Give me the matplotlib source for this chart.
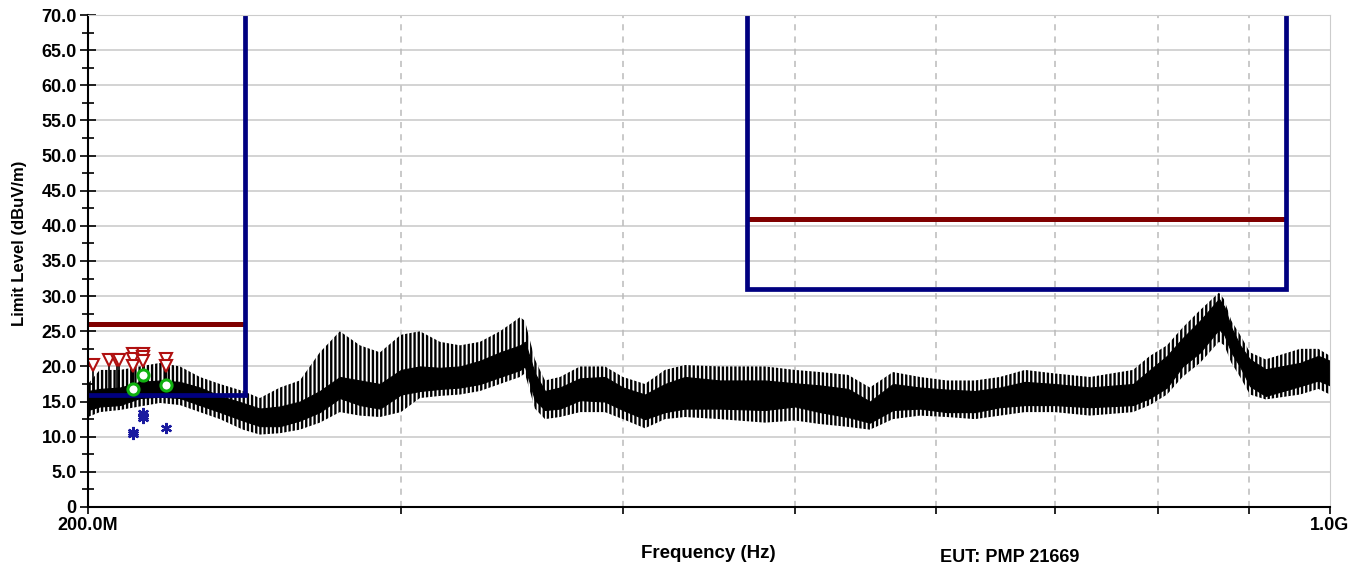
import matplotlib
matplotlib.use('Agg')
import matplotlib.pyplot as plt
import numpy as np

plt.rcParams['font.family'] = ['Liberation Sans', 'DejaVu Sans']
plt.rcParams['font.weight'] = 'bold'
plt.rcParams['hatch.linewidth'] = 1.7

# measured trace (MHz, dBuV/m): outer low, core low, core high, outer peak
freq = [200.0, 203.1, 208.5, 213.9, 219.6, 225.3, 231.2, 237.3, 244.5, 249.9,
        256.5, 263.2, 270.1, 277.2, 284.5, 292.0, 300.0, 307.5, 315.6, 323.9,
        332.4, 341.1, 350.1, 352.3, 356.9, 361.6, 368.7, 378.4, 390.8, 400.0,
        411.6, 422.4, 433.5, 453.6, 480.9, 500.0, 516.4, 535.5, 550.9, 567.6,
        587.8, 608.7, 631.2, 652.0, 673.5, 700.0, 732.7, 774.7, 791.9, 809.6,
        826.0, 845.0, 866.0, 872.0, 880.0, 890.0, 901.5, 920.0, 962.0, 985.0,
        1000.0]
lo = [12.8, 13.5, 13.8, 14.3, 14.8, 14.5, 13.5, 12.5, 11.0, 10.3,
      10.5, 11.0, 12.0, 13.5, 13.0, 12.8, 13.5, 15.5, 15.8, 16.0,
      16.5, 17.5, 18.5, 19.0, 14.0, 12.5, 12.8, 13.5, 13.5, 12.5,
      11.2, 12.5, 12.8, 12.5, 12.0, 12.3, 11.8, 11.4, 11.0, 12.5,
      13.0, 12.8, 12.5, 13.0, 13.5, 13.5, 13.0, 13.5, 14.5, 16.0,
      18.5, 20.5, 23.5, 23.0, 20.5, 18.5, 16.0, 15.3, 16.0, 16.8,
      16.0]
core_lo = [13.8, 14.3, 14.5, 15.5, 15.7, 15.5, 14.5, 13.5, 12.3, 11.5,
           11.5, 12.3, 13.5, 15.5, 14.5, 14.0, 16.0, 16.5, 16.8, 17.0,
           17.5, 18.5, 19.5, 20.0, 15.2, 13.8, 14.0, 15.2, 15.0, 13.8,
           12.5, 13.5, 14.0, 14.0, 13.8, 14.3, 13.5, 12.8, 12.0, 13.8,
           14.0, 13.5, 13.5, 14.2, 14.5, 14.5, 14.2, 14.5, 15.5, 17.0,
           20.0, 22.0, 25.3, 24.5, 22.0, 20.0, 17.2, 15.8, 17.2, 18.0,
           17.3]
core_hi = [16.5, 16.8, 17.0, 17.8, 18.0, 17.8, 17.0, 15.8, 14.8, 14.0,
           14.3, 15.0, 16.5, 18.5, 18.0, 17.5, 19.5, 20.0, 19.8, 20.0,
           20.8, 22.0, 23.0, 23.5, 19.0, 16.5, 17.0, 18.3, 18.5, 17.0,
           16.0, 17.5, 18.5, 18.0, 18.0, 17.6, 17.3, 16.8, 15.0, 17.5,
           17.0, 16.7, 16.5, 17.0, 17.8, 17.5, 17.0, 17.5, 19.5, 21.5,
           24.0, 26.5, 29.6, 28.5, 25.5, 23.0, 21.0, 19.6, 20.5, 21.5,
           20.8]
hi = [17.5, 19.5, 19.5, 20.0, 20.5, 20.0, 18.5, 17.5, 16.5, 15.5,
      17.0, 18.0, 22.0, 25.0, 23.0, 22.0, 24.5, 25.0, 23.5, 23.0,
      23.5, 25.0, 27.0, 26.5, 21.0, 18.0, 18.5, 20.0, 20.0, 18.5,
      17.5, 19.5, 20.2, 20.0, 20.0, 19.5, 19.2, 18.8, 17.0, 19.2,
      18.5, 18.0, 18.0, 18.5, 19.5, 19.0, 18.5, 19.5, 21.5, 23.0,
      25.5, 28.0, 30.5, 29.5, 26.5, 24.5, 22.0, 21.0, 22.5, 22.5,
      21.5]

# peak markers
pk_f = [201.4, 205.6, 207.6, 208.2, 212.1, 212.1, 212.1, 214.7, 214.7, 214.7, 221.3, 221.3]
pk_v = [20.2, 20.9, 20.9, 20.9, 21.7, 21.0, 20.0, 21.8, 21.4, 20.8, 21.0, 20.0]
qp_f = [212.1, 214.7, 221.3]
qp_v = [16.8, 18.8, 17.4]
av_f = [212.1, 212.1, 214.7, 214.7, 214.7, 221.3]
av_v = [10.4, 10.7, 12.6, 13.0, 13.4, 11.3]

# limit lines (MHz, dBuV/m)
lim1_f = [200.0, 245.0]
lim1_v = [26.0, 26.0]
box1_f = [200.0, 245.0, 245.0]
box1_v = [16.0, 16.0, 70.0]
lim2_f = [470.0, 945.0]
lim2_v = [41.0, 41.0]
box2_f = [470.0, 470.0, 945.0, 945.0]
box2_v = [70.0, 31.0, 31.0, 70.0]

fig = plt.figure(figsize=(13.7, 5.75), dpi=100)
ax = fig.add_axes([0.0642, 0.1183, 0.9066, 0.8556])

ax.set_xscale('log')
ax.set_xlim(200, 1000)
ax.set_ylim(0, 70)

ax.fill_between(freq, lo, hi, facecolor='white', edgecolor='black', hatch='||||', linewidth=0)
ax.fill_between(freq, core_lo, core_hi, color='black', linewidth=0.8)
ax.vlines(pk_f, 16, pk_v, color='black', lw=1.2)

ax.plot(lim1_f, lim1_v, color='#800000', lw=3.6, solid_capstyle='butt')
ax.plot(lim2_f, lim2_v, color='#800000', lw=3.6, solid_capstyle='butt')
ax.plot(box1_f, box1_v, color='#000080', lw=3.4, solid_joinstyle='miter')
ax.plot(box2_f, box2_v, color='#000080', lw=3.4, solid_joinstyle='miter')

ax.plot(pk_f, pk_v, linestyle='none', marker='v', ms=8, mfc='white', mec='#b01010', mew=1.5)
ax.plot(qp_f, qp_v, linestyle='none', marker='o', ms=8, mfc='white', mec='#10b010', mew=2.2)
ax.plot(av_f, av_v, linestyle='none', marker=(6, 2, 0), ms=8, color='#1a1aa0', mew=1.6)

# grid
ax.set_yticks(np.arange(0, 71, 5))
ax.set_yticks(np.arange(0, 71, 2.5), minor=True)
ax.set_yticklabels(['0'] + ['%.1f' % v for v in np.arange(5, 71, 5)], fontsize=13, fontweight='bold')
for v in np.arange(5, 71, 5):
    ax.axhline(v, color='#cccccc', lw=1.2, zorder=0)
xt = [200, 300, 400, 500, 600, 700, 800, 900, 1000]
ax.set_xticks(xt)
ax.set_xticks([], minor=True)
ax.set_xticklabels(['200.0M', '', '', '', '', '', '', '', '1.0G'], fontsize=13, fontweight='bold')
for v in xt[1:-1]:
    ax.axvline(v, color='#bbbbbb', lw=1.1, ls=(0, (4, 4)), zorder=0)

ax.tick_params(axis='y', which='major', direction='inout', length=12, width=1.2, pad=2)
ax.tick_params(axis='y', which='minor', direction='inout', length=8, width=1.2)
ax.tick_params(axis='x', which='major', direction='out', length=5, width=1.2, pad=2)

ax.spines['top'].set_color('#cccccc')
ax.spines['right'].set_color('#cccccc')
ax.spines['left'].set_linewidth(1.5)
ax.spines['bottom'].set_linewidth(1.5)

ax.set_ylabel('Limit Level (dBuV/m)', fontsize=12, fontweight='bold')
ax.yaxis.set_label_coords(-0.0488, 0.535)
fig.text(708 / 1370, 1 - 553 / 575, 'Frequency (Hz)', ha='center', va='center', fontsize=13.5, fontweight='bold')
fig.text(1010 / 1370, 1 - 557 / 575, 'EUT: PMP 21669', ha='center', va='center', fontsize=13, fontweight='bold')

fig.savefig('out.png', dpi=100)
